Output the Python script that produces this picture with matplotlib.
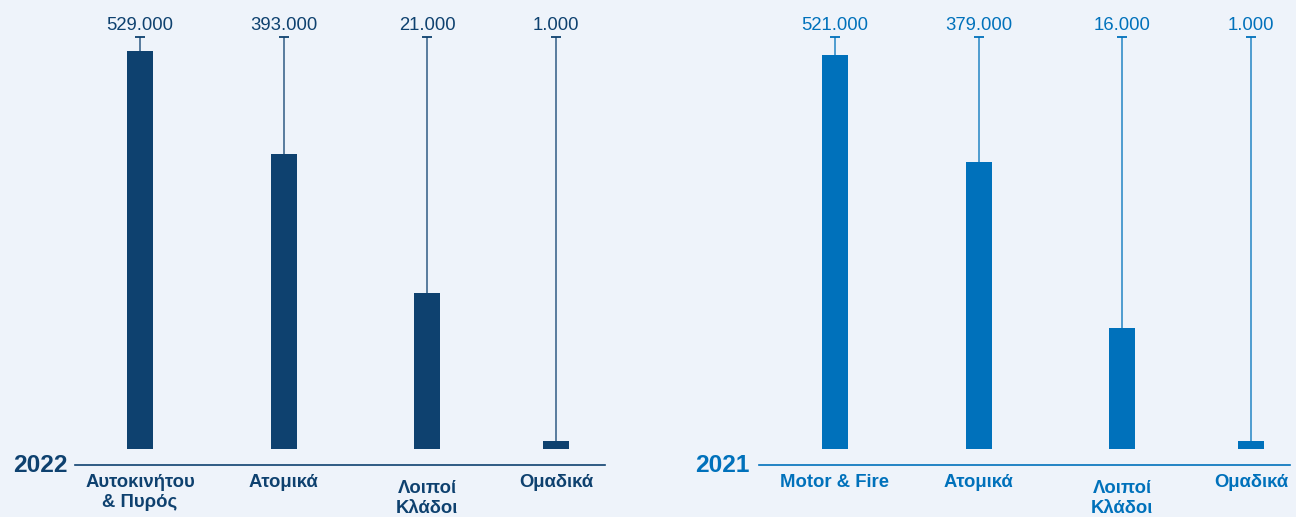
import matplotlib
matplotlib.use('Agg')
import matplotlib.pyplot as plt

plt.rcParams['font.family'] = ['Liberation Sans', 'DejaVu Sans']

# Data
years = ['2022', '2021']
categories_2022 = ['Αυτοκινήτου\n& Πυρός', 'Ατομικά', 'Λοιποί\nΚλάδοι', 'Ομαδικά']
categories_2021 = ['Motor & Fire', 'Ατομικά', 'Λοιποί\nΚλάδοι', 'Ομαδικά']
values_2022 = [529000, 393000, 21000, 1000]
values_2021 = [521000, 379000, 16000, 1000]
# displayed bar heights (the source chart does not scale bars linearly)
heights_2022 = [398, 295, 156, 8]
heights_2021 = [394, 287, 121, 8]

BG = '#EEF3FA'
NAVY = '#0E416F'
BLUE = '#0071BB'

W, H = 1296, 517
fig = plt.figure(figsize=(W / 100, H / 100), dpi=100, facecolor=BG)

x_pos = [0, 1, 2, 2.9]
unit = 143.5  # pixels per category step


def fmt(v):
    return f'{v:,}'.replace(',', '.')


def draw_panel(left_px, right_px, first_px, cats, vals, heights, color, year, year_px):
    ax = fig.add_axes([left_px / W, (H - 465) / H, (right_px - left_px) / W, 465 / H])
    ax.set_facecolor(BG)
    ax.set_xlim((left_px - first_px) / unit, (right_px - first_px) / unit)
    ax.set_ylim(-16, 449)

    top = 412
    ax.vlines(x_pos, 0, top, color=color, lw=1.1, alpha=0.85, zorder=1)
    ax.plot(x_pos, [top] * 4, ls='none', marker='_', ms=7, mew=1.3, color=color, zorder=1)
    ax.bar(x_pos, heights, width=26 / unit, color=color, zorder=2)

    for x, v in zip(x_pos, vals):
        ax.text(x, 424, fmt(v), ha='center', va='center', fontsize=13.3, color=color)

    for x, c in zip(x_pos, cats):
        y = -31 if c.startswith('Λοιποί') else -25
        ax.text(x, y, c, ha='center', va='top', fontsize=13.3, fontweight='bold',
                color=color, linespacing=1.2, clip_on=False)

    for s in ['top', 'right', 'left']:
        ax.spines[s].set_visible(False)
    ax.spines['bottom'].set_color(color)
    ax.spines['bottom'].set_linewidth(1.2)
    ax.set_xticks([])
    ax.set_yticks([])

    fig.text(year_px / W, 1 - 466 / H, year, ha='right', va='center',
             fontsize=17.6, fontweight='bold', color=color)


draw_panel(75, 605, 140, categories_2022, values_2022, heights_2022, NAVY, years[0], 68)
draw_panel(759, 1290, 835, categories_2021, values_2021, heights_2021, BLUE, years[1], 749)

fig.savefig('out.png', dpi=100, facecolor=BG)
